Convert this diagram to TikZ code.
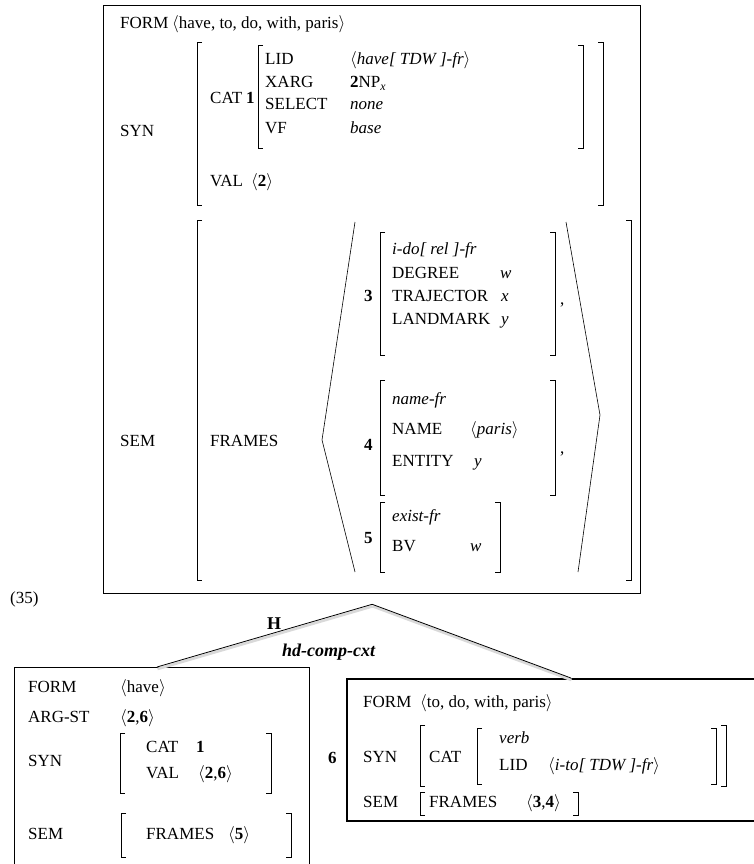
\documentclass[tikz,border=0pt]{standalone}
\usepackage{fontspec}
\setmainfont{Liberation Serif}
\usetikzlibrary{calc}
\tikzset{
 avm/.style={anchor=base west, inner sep=0pt, font=\fontsize{17}{20}\selectfont},
 avmbox/.style={draw, line width=1.3pt, anchor=north west, inner sep=0pt},
 brk/.style={line width=0.8pt},
 angl/.style={line width=0.6pt},
 branch/.style={line width=0.8pt,
   preaction={draw=black!15, line width=2.6pt, transform canvas={shift={(0.5,2)}}}},
}
\newcommand{\tg}[1]{\textbf{#1}}
\newcommand{\avmL}[3]{\draw[brk] (#1+5,#2) -- (#1,#2) -- (#1,#3) -- (#1+5,#3);}
\newcommand{\avmR}[3]{\draw[brk] (#1-5,#2) -- (#1,#2) -- (#1,#3) -- (#1-5,#3);}

\begin{document}
\begin{tikzpicture}[x=1pt, y=-1pt]
\useasboundingbox (0,0) rectangle (754,864);

% -- mother AVM --
\node[avmbox, minimum width=537pt, minimum height=588pt] (mother) at (103,5) {};

\node[avm] (mform) at (120,29) {FORM};
\node[avm] (mformv) at (172,29) {$\langle$have, to, do, with, paris$\rangle$};

% SYN
\node[avm] (msyn) at (120,136) {SYN};
\avmL{197}{42}{205} \avmR{603}{42}{205}
\node[avm] (mcat) at (210,103) {CAT};
\node[avm] (mcat1) at (246,103) {\tg{1}};
\avmL{258}{45}{148} \avmR{583}{45}{148}
\node[avm] (mlid) at (265,65) {LID};
\node[avm] (mlidv) at (350,65) {$\langle$\textit{have[ TDW ]-fr}$\rangle$};
\node[avm] (mxarg) at (265,88) {XARG};
\node[avm] (mxargv) at (350,88) {\tg{2}NP\textsubscript{\textit{x}}};
\node[avm] (msel) at (265,110) {SELECT};
\node[avm] (mselv) at (350,110) {\textit{none}};
\node[avm] (mvf) at (265,133) {VF};
\node[avm] (mvfv) at (350,133) {\textit{base}};
\node[avm] (mval) at (210,186) {VAL};
\node[avm] (mvalv) at (251,186) {$\langle$\tg{2}$\rangle$};

% SEM
\node[avm] (msem) at (120,446) {SEM};
\avmL{197}{220}{580} \avmR{631}{220}{580}
\node[avm] (mframes) at (210,446) {FRAMES};
\draw[angl] (355,222) -- (322,440) -- (355,572);
\draw[angl] (566,222) -- (600,415) -- (578,572);

% frame 3
\node[avm] (t3) at (364,301) {\tg{3}};
\avmL{380}{232}{355} \avmR{555}{232}{355}
\node[avm] (f3a) at (392,254) {\textit{i-do[ rel ]-fr}};
\node[avm] (f3b) at (392,278) {DEGREE};
\node[avm] (f3bv) at (500,278) {\textit{w}};
\node[avm] (f3c) at (392,301) {TRAJECTOR};
\node[avm] (f3cv) at (501,301) {\textit{x}};
\node[avm] (f3d) at (392,324) {LANDMARK};
\node[avm] (f3dv) at (501,324) {\textit{y}};
\node[avm] (c3) at (560,304) {,};

% frame 4
\node[avm] (t4) at (364,450) {\tg{4}};
\avmL{380}{380}{495} \avmR{555}{380}{495}
\node[avm] (f4a) at (392,404) {\textit{name-fr}};
\node[avm] (f4b) at (392,434) {NAME};
\node[avm] (f4bv) at (470,434) {$\langle$\textit{paris}$\rangle$};
\node[avm] (f4c) at (392,466) {ENTITY};
\node[avm] (f4cv) at (474,466) {\textit{y}};
\node[avm] (c4) at (560,453) {,};

% frame 5
\node[avm] (t5) at (364,543) {\tg{5}};
\avmL{380}{502}{572} \avmR{500}{502}{572}
\node[avm] (f5a) at (392,521) {\textit{exist-fr}};
\node[avm] (f5b) at (392,551) {BV};
\node[avm] (f5bv) at (470,551) {\textit{w}};

\node[avm] (exno) at (10,603) {(35)};

% -- daughters --
\node[avmbox, line width=1pt, minimum width=295pt, minimum height=210pt] (hdtr) at (14,667) {};
\node[avmbox, line width=1.8pt, minimum width=420pt, minimum height=142pt] (cdtr) at (346,678) {};

\coordinate (apex) at ($(mother.south)+(0,10)$);
\draw[branch] (apex) -- ($(hdtr.north)+(-5,0)$);
\draw[branch] (apex) -- ($(cdtr.north)+(14,0)$);
\node[avm, font=\fontsize{18}{20}\selectfont\bfseries] (hmark) at (267,629) {H};
\node[avm, font=\fontsize{18}{20}\selectfont\bfseries\itshape] (cxt) at (282,656) {hd-comp-cxt};

% head daughter
\node[avm] (hform) at (28,692) {FORM};
\node[avm] (hformv) at (120,692) {$\langle$have$\rangle$};
\node[avm] (harg) at (28,722) {ARG-ST};
\node[avm] (hargv) at (120,722) {$\langle$\tg{2},\tg{6}$\rangle$};
\node[avm] (hsyn) at (28,766) {SYN};
\avmL{120}{733}{793} \avmR{271}{733}{793}
\node[avm] (hcat) at (146,752) {CAT};
\node[avm] (hcatv) at (196,752) {\tg{1}};
\node[avm] (hval) at (146,778) {VAL};
\node[avm] (hvalv) at (198,778) {$\langle$\tg{2},\tg{6}$\rangle$};
\node[avm] (hsem) at (28,839) {SEM};
\avmL{121}{813}{857} \avmR{291}{813}{857}
\node[avm] (hfr) at (146,839) {FRAMES};
\node[avm] (hfrv) at (228,839) {$\langle$\tg{5}$\rangle$};

% complement daughter
\node[avm] (ctag) at (328,763) {\tg{6}};
\node[avm] (cform) at (363,707) {FORM};
\node[avm] (cformv) at (420,707) {$\langle$to, do, with, paris$\rangle$};
\node[avm] (csyn) at (363,762) {SYN};
\avmL{420}{725}{786} \avmR{726}{725}{786}
\node[avm] (ccat) at (429,762) {CAT};
\avmL{477}{728}{784} \avmR{716}{728}{784}
\node[avm] (cverb) at (499,743) {\textit{verb}};
\node[avm] (clid) at (499,770) {LID};
\node[avm] (clidv) at (548,770) {$\langle$\textit{i-to[ TDW ]-fr}$\rangle$};
\node[avm] (csem) at (363,807) {SEM};
\avmL{420}{792}{815} \avmR{578}{792}{815}
\node[avm] (cfr) at (429,807) {FRAMES};
\node[avm] (cfrv) at (526,807) {$\langle$\tg{3},\tg{4}$\rangle$};

\end{tikzpicture}
\end{document}
